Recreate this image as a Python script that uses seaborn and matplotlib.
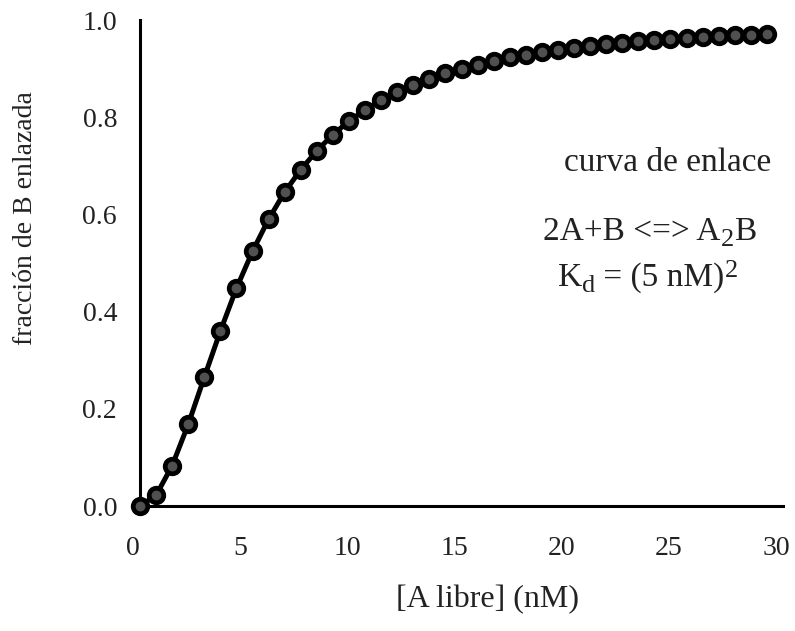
import numpy as np
import pandas as pd
import matplotlib
matplotlib.use("Agg")
import matplotlib.pyplot as plt
from matplotlib.transforms import IdentityTransform, ScaledTranslation
import seaborn as sns

# Data
a_libre = [0.0, 0.75, 1.5, 2.25, 3.0, 3.75, 4.5, 5.25, 6.0, 6.75,
           7.5, 8.25, 9.0, 9.75, 10.5, 11.25, 12.0, 12.75, 13.5, 14.25,
           15.0, 15.75, 16.5, 17.25, 18.0, 18.75, 19.5, 20.25, 21.0, 21.75,
           22.5, 23.25, 24.0, 24.75, 25.5, 26.25, 27.0, 27.75, 28.5, 29.25]
fraccion = [0.000, 0.022, 0.083, 0.168, 0.265, 0.360, 0.448, 0.524, 0.590, 0.646,
            0.692, 0.731, 0.764, 0.792, 0.815, 0.835, 0.852, 0.867, 0.879, 0.890,
            0.900, 0.908, 0.916, 0.923, 0.928, 0.934, 0.938, 0.943, 0.946, 0.950,
            0.953, 0.956, 0.958, 0.961, 0.963, 0.965, 0.967, 0.969, 0.970, 0.972]
x_ticks = [0, 5, 10, 15, 20, 25, 30]
y_ticks = [0.0, 0.2, 0.4, 0.6, 0.8, 1.0]
y_tick_labels = ["0.0", "0.2", "0.4", "0.6", "0.8", "1.0"]

df = pd.DataFrame({"A": a_libre, "f": fraccion})

sns.set_theme(style="white")
plt.rcParams["font.family"] = ["Liberation Serif", "DejaVu Serif"]

W, H = 795, 631
fig = plt.figure(figsize=(W / 100, H / 100), dpi=100)
ax = fig.add_axes([140 / W, 125 / H, 643 / W, 486 / H])

sns.lineplot(data=df, x="A", y="f", ax=ax, color="black", linewidth=3.6,
             marker="o", markersize=10.5, markerfacecolor="#505050",
             markeredgecolor="black", markeredgewidth=3.4, clip_on=False,
             zorder=5)

ax.set_xlim(0, 30)
ax.set_ylim(0, 1.0)
ax.set_xticks(x_ticks)
ax.set_xticklabels([str(t) for t in x_ticks])
ax.set_yticks(y_ticks)
ax.set_yticklabels(y_tick_labels)

for s in ["top", "right"]:
    ax.spines[s].set_visible(False)
for s in ["left", "bottom"]:
    ax.spines[s].set_linewidth(2.2)
    ax.spines[s].set_color("black")

ax.tick_params(axis="both", direction="inout", length=15, width=2.2,
               colors="black", labelsize=20, labelcolor="#222222")
ax.tick_params(axis="x", pad=14)
ax.tick_params(axis="y", pad=9)

# x tick labels sit slightly left of their ticks in the reference
shift = ScaledTranslation(-7 / 100, 0, fig.dpi_scale_trans)
for lab in ax.get_xticklabels():
    lab.set_transform(lab.get_transform() + shift)

ax.set_xlabel("[A libre] (nM)", fontsize=23, color="#222222", va="center")
ax.xaxis.set_label_coords((488 - 140) / 643, (506 - 600) / 486)
ax.set_ylabel("fracción de B enlazada", fontsize=20, color="#222222", va="center")
ax.yaxis.set_label_coords((26 - 140) / 643, (506 - 218) / 486)

def ax_pt(px, py):
    return ((px - 140) / 643, (506 - py) / 486)

ax.text(*ax_pt(668, 163), "curva de enlace", transform=ax.transAxes,
        ha="center", va="center", fontsize=24, color="#222222")

# Formula lines with large sub/superscripts, placed piece by piece
fig.canvas.draw()
renderer = fig.canvas.get_renderer()

def draw_pieces(pieces, left_px, baseline_py):
    x = left_px
    for txt, dy, size in pieces:
        t = fig.text(x, H - baseline_py + dy, txt, transform=IdentityTransform(),
                     ha="left", va="baseline", fontsize=size, color="#222222")
        bb = t.get_window_extent(renderer=renderer)
        x += bb.width

draw_pieces([("2A+B <=> A", 0, 24), ("2", -6, 19), ("B", 0, 24)], 543, 240)
draw_pieces([("K", 0, 24), ("d", -6, 19), (" = (5 nM)", 0, 24), ("2", 9, 19)], 558, 286)

fig.savefig("out.png", dpi=100)
